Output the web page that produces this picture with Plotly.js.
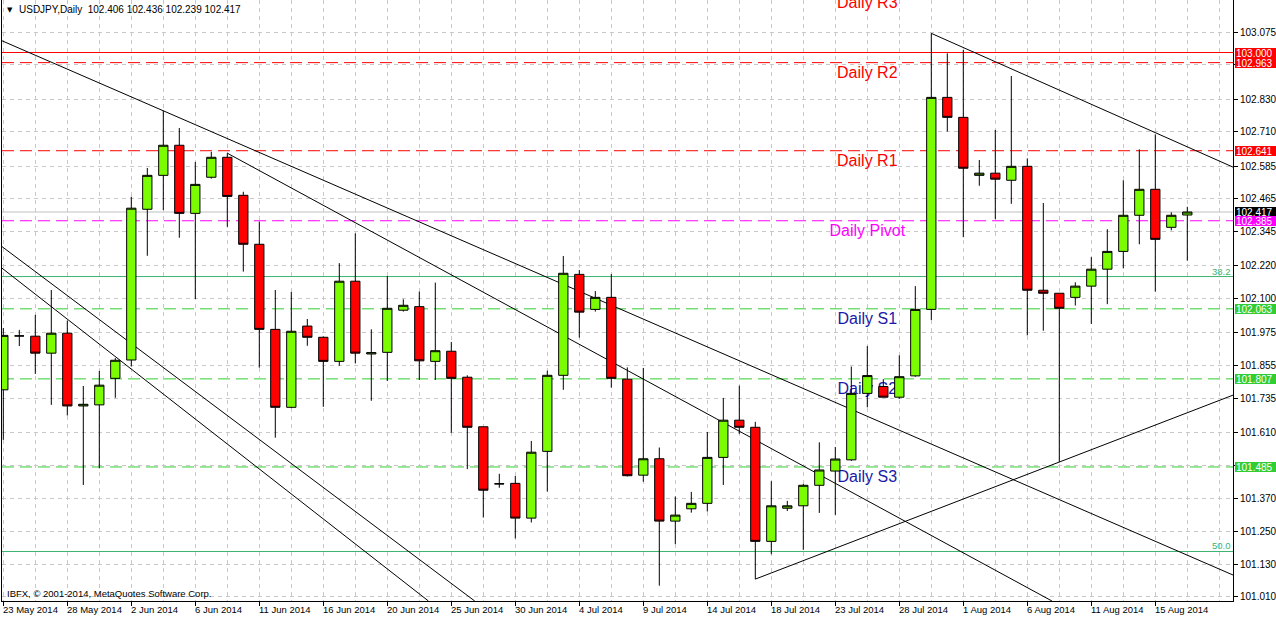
<!DOCTYPE html>
<html><head><meta charset="utf-8">
<script src="https://cdn.plot.ly/plotly-3.0.1.min.js"></script>
<style>html,body{margin:0;padding:0;background:#fff;}#chart{width:1276px;height:619px;}</style>
</head><body><div id="chart"></div>
<script>
// ---------- DATA ----------
const dates = ["2014-05-23","2014-05-25","2014-05-26","2014-05-27","2014-05-28","2014-05-29","2014-05-30",
"2014-06-01","2014-06-02","2014-06-03","2014-06-04","2014-06-05","2014-06-06",
"2014-06-08","2014-06-09","2014-06-10","2014-06-11","2014-06-12","2014-06-13",
"2014-06-15","2014-06-16","2014-06-17","2014-06-18","2014-06-19","2014-06-20",
"2014-06-22","2014-06-23","2014-06-24","2014-06-25","2014-06-26","2014-06-27",
"2014-06-29","2014-06-30","2014-07-01","2014-07-02","2014-07-03","2014-07-04",
"2014-07-06","2014-07-07","2014-07-08","2014-07-09","2014-07-10","2014-07-11",
"2014-07-13","2014-07-14","2014-07-15","2014-07-16","2014-07-17","2014-07-18",
"2014-07-20","2014-07-21","2014-07-22","2014-07-23","2014-07-24","2014-07-25",
"2014-07-27","2014-07-28","2014-07-29","2014-07-30","2014-07-31","2014-08-01",
"2014-08-03","2014-08-04","2014-08-05","2014-08-06","2014-08-07","2014-08-08",
"2014-08-10","2014-08-11","2014-08-12","2014-08-13","2014-08-14","2014-08-15",
"2014-08-17","2014-08-18"];

const openP = [101.767,101.964,101.963,101.901,101.974,101.708,101.712,
101.809,101.876,102.427,102.551,102.661,102.412,
102.544,102.617,102.478,102.299,101.988,101.703,
102.000,101.959,101.871,102.164,101.898,101.904,
102.058,102.071,101.871,101.908,101.813,101.632,
101.424,101.425,101.298,101.542,101.820,102.189,
102.061,102.105,101.806,101.455,101.515,101.287,
101.332,101.352,101.520,101.656,101.630,101.213,
101.334,101.343,101.418,101.470,101.511,101.754,
101.779,101.740,101.818,102.061,102.836,102.763,
102.551,102.559,102.533,102.584,102.131,102.120,
102.105,102.146,102.208,102.273,102.405,102.500,
102.361,102.406];

const highP = [101.993,101.986,102.041,102.132,102.020,101.781,101.836,
101.883,102.473,102.578,102.787,102.724,102.600,
102.637,102.632,102.491,102.382,102.132,102.125,
102.026,101.962,102.230,102.339,101.988,102.183,
102.098,102.126,102.159,101.942,101.820,101.632,
101.460,101.452,101.580,101.837,102.256,102.205,
102.128,102.190,101.849,101.847,101.556,101.377,
101.394,101.613,101.737,101.782,101.650,101.433,
101.361,101.423,101.575,101.558,101.852,101.927,
101.806,101.893,102.146,103.070,102.997,103.009,
102.607,102.717,102.914,102.613,102.450,102.120,
102.160,102.252,102.354,102.533,102.646,102.701,
102.416,102.436];

const lowP = [101.584,101.927,101.825,101.712,101.673,101.419,101.480,
101.738,101.852,102.257,102.424,102.323,102.099,
102.539,102.363,102.199,101.848,101.592,101.700,
101.928,101.705,101.855,101.864,101.727,101.799,
102.053,101.803,101.803,101.610,101.477,101.300,
101.409,101.224,101.282,101.395,101.767,101.958,
102.053,101.775,101.450,101.431,101.051,101.203,
101.318,101.322,101.419,101.606,101.075,101.166,
101.324,101.182,101.317,101.310,101.507,101.703,
101.740,101.734,101.815,102.022,102.711,102.325,
102.513,102.391,102.447,101.966,101.983,101.503,
102.075,102.008,102.080,102.211,102.299,102.126,
102.350,102.239];

const closeP = [101.966,101.964,101.901,101.974,101.708,101.714,101.784,
101.875,102.431,102.551,102.661,102.412,102.518,
102.617,102.474,102.299,101.988,101.703,101.981,
101.959,101.871,102.164,101.901,101.903,102.065,
102.076,101.873,101.910,101.809,101.630,101.400,
101.423,101.298,101.539,101.820,102.193,102.051,
102.105,101.809,101.453,101.515,101.287,101.309,
101.352,101.520,101.656,101.630,101.213,101.343,
101.343,101.418,101.474,101.514,101.754,101.819,
101.740,101.815,102.061,102.836,102.763,102.577,
102.559,102.537,102.584,102.131,102.120,102.065,
102.146,102.208,102.273,102.405,102.500,102.317,
102.405,102.417];

const dateTickIdx = [0,4,8,12,16,20,24,28,32,36,40,44,48,52,56,60,64,68,72];
const dateTickLabels = ["23 May 2014","28 May 2014","2 Jun 2014","6 Jun 2014","11 Jun 2014","16 Jun 2014",
"20 Jun 2014","25 Jun 2014","30 Jun 2014","4 Jul 2014","9 Jul 2014","14 Jul 2014","18 Jul 2014",
"23 Jul 2014","28 Jul 2014","1 Aug 2014","6 Aug 2014","11 Aug 2014","15 Aug 2014"];

const priceTicks = [103.075,102.955,102.830,102.710,102.585,102.465,102.345,102.220,102.100,
101.975,101.855,101.735,101.610,101.490,101.370,101.250,101.130,101.010];
const hiddenTicks = [102.955,101.490];

const pivotNames = ["Daily R3","Daily R2","Daily R1","Daily Pivot","Daily S1","Daily S2","Daily S3"];
const pivotLevels = [103.219,102.963,102.641,102.385,102.063,101.807,101.485];
const pivotLabelIdx = 54;

const resistanceLevel = 103.000;
const bidLevel = 102.417;
const fibLevels = [102.181,101.176];
const fibLabels = ["38.2","50.0"];

const boxLevels = [103.000,102.963,102.641,102.417,102.385,102.063,101.807,101.485];

// trend lines: two anchor points (bar index, price)
const trendX1 = [10,14,0,0,58,47];
const trendY1 = [102.787,102.632,102.287,102.208,103.070,101.075];
const trendX2 = [70,60,20,20,72,66];
const trendY2 = [101.264,101.171,101.410,101.295,102.707,101.503];
const trendRay = ["both","right","both","both","right","right"];

const headerText = "USDJPY,Daily  102.406 102.436 102.239 102.417";
const copyrightText = "IBFX, \u00a9 2001-2014, MetaQuotes Software Corp.";

// ---------- STYLE ----------
const X_RANGE = [-0.081, 76.856];
const Y_RANGE = [100.995, 103.192];
const PLOT_H = 601;
const PX_PER_UNIT = PLOT_H / (Y_RANGE[1] - Y_RANGE[0]);
const FONT = "Liberation Sans, Arial, sans-serif";
const GRID = "#C8C8C8";
const pivotColors = ["#FF0000","#FF0000","#FF0000","#FF00FF","#1A1AA8","#1A1AA8","#1A1AA8"];
const pivotLineColors = ["#FF0000","#FF0000","#FF0000","#FF00FF","#32CD32","#32CD32","#32CD32"];
const boxColors = ["#FF0000","#FF0000","#FF0000","#000000","#FF00FF","#32CD32","#32CD32","#32CD32"];

const xIdx = dates.map((d, i) => i);

const candle = {
  type: "candlestick", x: xIdx, open: openP, high: highP, low: lowP, close: closeP,
  increasing: {fillcolor: "#7CFC00", line: {color: "#000000", width: 1}},
  decreasing: {fillcolor: "#FF0000", line: {color: "#000000", width: 1}},
  whiskerwidth: 0, hoverinfo: "skip", showlegend: false
};

const shapes = [];
function hline(y, color, dash) {
  if (y < Y_RANGE[0] || y > Y_RANGE[1]) return;
  shapes.push({type: "line", xref: "paper", x0: 0, x1: 1, yref: "y", y0: y, y1: y,
    layer: "between", line: {color: color, width: 1, dash: dash}});
}
hline(resistanceLevel, "#FF0000", "solid");
hline(bidLevel, "#C0C0C0", "solid");
fibLevels.forEach(v => hline(v, "#3CB371", "solid"));
pivotLevels.forEach((v, i) => hline(v, pivotLineColors[i], "12px,6px"));

function clipSeg(x0, y0, x1, y1) {
  let t0 = 0, t1 = 1;
  const dx = x1 - x0, dy = y1 - y0;
  const p = [-dx, dx, -dy, dy];
  const q = [x0 - X_RANGE[0], X_RANGE[1] - x0, y0 - Y_RANGE[0], Y_RANGE[1] - y0];
  for (let i = 0; i < 4; i++) {
    if (p[i] === 0) { if (q[i] < 0) return null; continue; }
    const r = q[i] / p[i];
    if (p[i] < 0) { if (r > t1) return null; if (r > t0) t0 = r; }
    else { if (r < t0) return null; if (r < t1) t1 = r; }
  }
  return [x0 + t0 * dx, y0 + t0 * dy, x0 + t1 * dx, y0 + t1 * dy];
}
for (let i = 0; i < trendX1.length; i++) {
  const m = (trendY2[i] - trendY1[i]) / (trendX2[i] - trendX1[i]);
  const xs = trendRay[i] === "both" ? X_RANGE[0] : trendX1[i];
  const xe = X_RANGE[1];
  const seg = clipSeg(xs, trendY1[i] + m * (xs - trendX1[i]), xe, trendY1[i] + m * (xe - trendX1[i]));
  if (!seg) continue;
  shapes.push({type: "line", xref: "x", yref: "y", x0: seg[0], y0: seg[1], x1: seg[2], y1: seg[3],
    layer: "between", line: {color: "#000000", width: 1}});
}
// pivot labels: invisible boxes just below each level, text centred in them (drawn under the candles)
pivotNames.forEach((name, i) => {
  shapes.push({type: "rect", xref: "x", yref: "y", x0: pivotLabelIdx - 1, x1: pivotLabelIdx + 1,
    y0: pivotLevels[i] - 15 / PX_PER_UNIT, y1: pivotLevels[i],
    line: {width: 0, color: "rgba(0,0,0,0)"}, fillcolor: "rgba(0,0,0,0)", layer: "between",
    label: {text: name, textposition: "middle center", font: {family: FONT, size: 16, color: pivotColors[i]}}});
});

const annotations = [];
annotations.push({xref: "paper", yref: "paper", x: 0, y: 1, xanchor: "left", yanchor: "top", xshift: 5, yshift: -6,
  text: "\u25BC", showarrow: false, borderpad: 0, borderwidth: 0, font: {family: "DejaVu Sans", size: 7, color: "#000"}});
annotations.push({xref: "paper", yref: "paper", x: 0, y: 1, xanchor: "left", yanchor: "top", xshift: 17, yshift: -4,
  text: headerText.replace(/ /g, "&nbsp;"), showarrow: false, borderpad: 0, borderwidth: 0,
  font: {family: FONT, size: 10, color: "#000"}});
annotations.push({xref: "paper", yref: "paper", x: 0, y: 0, xanchor: "left", yanchor: "bottom", xshift: 5, yshift: 2,
  text: copyrightText, showarrow: false, borderpad: 0, borderwidth: 0, font: {family: FONT, size: 9.5, color: "#000"}});
dateTickIdx.forEach((ix, i) => {
  annotations.push({xref: "x", yref: "paper", x: ix, y: 0, xanchor: "left", yanchor: "top", xshift: 0, yshift: -3,
    text: dateTickLabels[i], showarrow: false, borderpad: 0, borderwidth: 0, font: {family: FONT, size: 9.5, color: "#000"}});
});
fibLevels.forEach((v, i) => {
  annotations.push({xref: "paper", yref: "y", x: 1, y: v, xanchor: "right", yanchor: "bottom", xshift: -2, yshift: 0,
    text: fibLabels[i], showarrow: false, borderpad: 0, borderwidth: 0, font: {family: FONT, size: 9.5, color: "#3CB371"}});
});
boxLevels.forEach((v, i) => {
  annotations.push({xref: "paper", yref: "y", x: 1, y: v, xanchor: "left", yanchor: "middle", xshift: 2,
    text: v.toFixed(3), showarrow: false, bgcolor: boxColors[i], borderpad: 1, borderwidth: 0,
    width: 40, height: 8, align: "left", font: {family: FONT, size: 10, color: "#FFFFFF"}});
});

const layout = {
  width: 1276, height: 619,
  margin: {l: 2, r: 43, t: 0, b: 18, pad: 0},
  paper_bgcolor: "#FFFFFF", plot_bgcolor: "#FFFFFF",
  showlegend: false, hovermode: false, dragmode: false,
  boxgap: 0.42, boxgroupgap: 0,
  xaxis: {
    type: "linear", range: X_RANGE, rangeslider: {visible: false}, fixedrange: true,
    tickmode: "array", tickvals: dateTickIdx, showticklabels: false,
    ticks: "outside", ticklen: 4, tickcolor: "#000", tickwidth: 1,
    showgrid: true, gridcolor: GRID, griddash: "4px,4px", gridwidth: 1,
    minor: {tick0: 0, dtick: 2, showgrid: true, gridcolor: GRID, griddash: "4px,4px", ticks: ""},
    showline: true, mirror: true, linecolor: "#000", linewidth: 1, zeroline: false
  },
  yaxis: {
    type: "linear", range: Y_RANGE, side: "right", fixedrange: true,
    tickmode: "array", tickvals: priceTicks,
    ticktext: priceTicks.map(v => hiddenTicks.indexOf(v) >= 0 ? "" : v.toFixed(3)),
    ticks: "outside", ticklen: 4, tickcolor: "#000", tickwidth: 1,
    tickfont: {family: FONT, size: 10, color: "#000"},
    showgrid: true, gridcolor: GRID, griddash: "4px,4px", gridwidth: 1,
    showline: true, mirror: true, linecolor: "#000", linewidth: 1, zeroline: false
  },
  shapes: shapes,
  annotations: annotations
};

Plotly.newPlot("chart", [candle], layout, {staticPlot: true, displayModeBar: false});
</script>
</body></html>
